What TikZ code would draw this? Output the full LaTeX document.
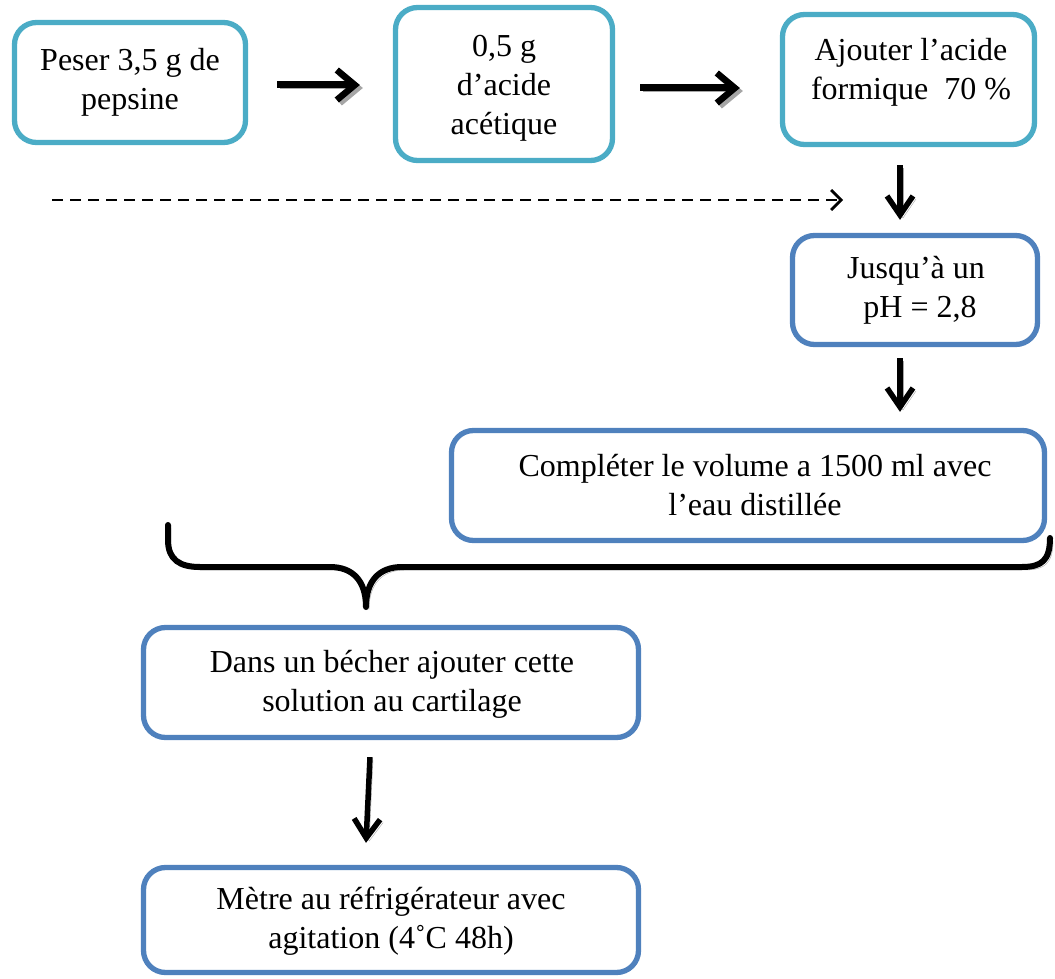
\documentclass[tikz,border=0pt]{standalone}
\usepackage{fontspec}
\setmainfont{Liberation Serif}
\usetikzlibrary{arrows.meta}
\definecolor{boxcyan}{HTML}{4BACC6}
\definecolor{boxblue}{HTML}{4F81BD}
\begin{document}
\begin{tikzpicture}[x=1pt,y=-1pt,
  box/.style={draw, line width=5.3pt, rounded corners=22pt, fill=white, inner sep=0pt},
  cbox/.style={box, draw=boxcyan},
  bbox/.style={box, draw=boxblue},
  txt/.style={align=center, inner sep=0pt, font=\fontsize{32}{39}\selectfont},
  shad/.style={preaction={draw=black!35, transform canvas={shift={(3,3)}}}},
  arr/.style={line width=7pt, -{Straight Barb[length=18pt,width=30pt,line width=6.5pt]}, shad},
  darr/.style={line width=5.5pt, -{Straight Barb[length=19pt,width=26pt,line width=5.5pt]}, shad},
  dash arr/.style={line width=2.8pt, dash pattern=on 11pt off 7pt, -{Straight Barb[length=10pt,width=20pt,line width=2.8pt]}},
  brace/.style={line width=6pt, line cap=round, line join=round, shad}]
\useasboundingbox (0,0) rectangle (1055,979);

% process boxes
\node[cbox, minimum width=231pt, minimum height=120pt] (b1) at (130,82.5) {};
\node[cbox, minimum width=217pt, minimum height=153pt] (b2) at (504,84) {};
\node[cbox, minimum width=252pt, minimum height=130pt] (b3) at (908.5,79.5) {};
\node[bbox, minimum width=245pt, minimum height=109pt] (b4) at (915,290) {};
\node[bbox, minimum width=593pt, minimum height=110pt] (b5) at (748,485.5) {};
\node[bbox, minimum width=495pt, minimum height=110pt] (b6) at (391,682.5) {};
\node[bbox, minimum width=495pt, minimum height=105pt] (b7) at (391,920) {};

% box texts
\node[txt] (t1) at (130,82) {Peser 3,5 g de\\pepsine};
\node[txt] (t2) at (504,88) {0,5 g\\d’acide\\acétique};
\node[txt] (t3) at (911,72) {Ajouter l’acide\\formique~ 70 \%};
\node[txt] (t4) at (916,290) {Jusqu’à un\\\ pH = 2,8};
\node[txt] (t5) at (755,485) {Compléter le volume a 1500 ml avec\\l’eau distillée};
\node[txt] (t6) at (392,684) {Dans un bécher ajouter cette\\solution au cartilage};
\node[txt] (t7) at (391,921) {Mètre au réfrigérateur avec\\agitation (4˚C 48h)};

% horizontal arrows
\draw[arr] ([shift={(29,2.5)}]b1.east) -- ([shift={(-33,1)}]b2.west);
\draw[arr] ([shift={(25,4)}]b2.east) -- ([shift={(-40,8.5)}]b3.west);

% vertical arrows
\draw[darr] ([shift={(-8.5,18)}]b3.south) -- ([shift={(-15,-13)}]b4.north);
\draw[darr] ([shift={(-15,11)}]b4.south) -- ([shift={(-15,-16)}]b4.south |- b5.north);
\draw[darr] ([shift={(-21,17)}]b6.south) -- ([shift={(-25,-22)}]b7.north);

% dashed arrow
\coordinate (ds) at (52,200);
\coordinate (de) at (843,200);
\draw[dash arr] (ds) -- (de);

% brace gathering the solution
\coordinate (bl) at (168,525);
\coordinate (bt) at (366,607);
\coordinate (br) at (1050,538);
\draw[brace] (bl) -- (168,540)
  .. controls (168,560) and (180,567) .. (200,567)
  -- (330,567)
  .. controls (352,567) and (366,580) .. (bt)
  .. controls (366,580) and (380,567) .. (402,567)
  -- (1022,567)
  .. controls (1042,567) and (1050,560) .. (br);
\end{tikzpicture}
\end{document}
